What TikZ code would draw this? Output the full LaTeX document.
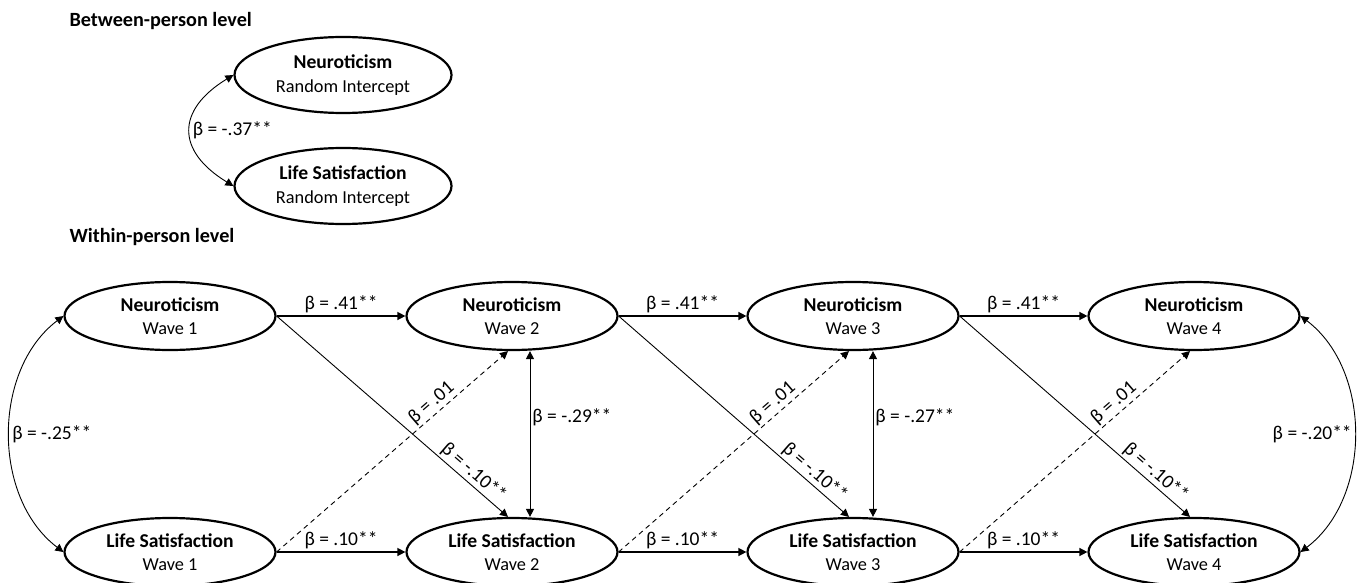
\documentclass[tikz,border=0pt]{standalone}
\usepackage{fontspec}
\setmainfont{Carlito}
\usetikzlibrary{arrows.meta, shapes.geometric}

\newcommand{\varname}[1]{{\fontsize{19.6}{23.5}\selectfont\bfseries #1}}

\begin{document}
\begin{tikzpicture}[x = 1pt, y = -1pt, font = \fontsize{18.3}{23.5}\selectfont,
    wave/.style = {shape = ellipse, draw, line width = 2.2pt, minimum width = 211pt, minimum height = 68pt, inner sep = 0pt, align = center},
    intercept/.style = {wave, minimum width = 217pt, minimum height = 76pt},
    reg/.style = {-{Triangle[length = 8pt, width = 8pt]}, line width = 1.4pt},
    cross/.style = {-{Triangle[length = 8pt, width = 8pt]}, line width = 0.9pt},
    cov/.style = {{Triangle[length = 8pt, width = 8pt]}-{Triangle[length = 8pt, width = 8pt]}, line width = 0.9pt},
    lab/.style = {inner sep = 2pt, font = \fontsize{19.5}{23.5}\selectfont},
    heading/.style = {anchor = west, font = \fontsize{20.2}{24}\selectfont\bfseries}]
    \useasboundingbox (0,0) rectangle (1357,583);

    % between-person part
    \node (B) at (66,21) [heading] {Between-person level};
    \node (NRI) at (343,75) [intercept] {\varname{Neuroticism}\\Random Intercept};
    \node (LRI) at (343,186) [intercept] {\varname{Life Satisfaction}\\Random Intercept};
    \draw [cov] (NRI.west) .. controls (176,110) and (176,151) .. (LRI.west)
        node [pos = 0.5, anchor = west, lab] {β = -.37**};

    % within-person part
    \node (W) at (66,237) [heading] {Within-person level};
    \node (N1) at (170,316) [wave] {\varname{Neuroticism}\\Wave 1};
    \node (N2) at (512,316) [wave] {\varname{Neuroticism}\\Wave 2};
    \node (N3) at (853,316) [wave] {\varname{Neuroticism}\\Wave 3};
    \node (N4) at (1194,316) [wave] {\varname{Neuroticism}\\Wave 4};
    \node (L1) at (170,552) [wave] {\varname{Life Satisfaction}\\Wave 1};
    \node (L2) at (512,552) [wave] {\varname{Life Satisfaction}\\Wave 2};
    \node (L3) at (853,552) [wave] {\varname{Life Satisfaction}\\Wave 3};
    \node (L4) at (1194,552) [wave] {\varname{Life Satisfaction}\\Wave 4};

    \draw [cov] (N1.west) .. controls (-8,370) and (-8,498) .. (L1.west)
        node [pos = 0.5, anchor = west, lab] {β = -.25**};
    \draw [cov] (N4.east) .. controls (1372,370) and (1372,498) .. (L4.east)
        node [pos = 0.5, anchor = east, lab] {β = -.20**};

    % stability paths
    \draw [reg] (N1) -- (N2) node [midway, above, lab] {β = .41**};
    \draw [reg] (N2) -- (N3) node [midway, above, lab] {β = .41**};
    \draw [reg] (N3) -- (N4) node [midway, above, lab] {β = .41**};
    \draw [reg] (L1) -- (L2) node [midway, above, lab] {β = .10**};
    \draw [reg] (L2) -- (L3) node [midway, above, lab] {β = .10**};
    \draw [reg] (L3) -- (L4) node [midway, above, lab] {β = .10**};

    % cross-lagged paths
    \draw [cross] (N1.east) -- ([xshift = -4pt]L2.north) node [pos = 0.82, above, sloped, lab] {β = -.10**};
    \draw [cross] (N2.east) -- ([xshift = -4pt]L3.north) node [pos = 0.82, above, sloped, lab] {β = -.10**};
    \draw [cross] (N3.east) -- ([xshift = -4pt]L4.north) node [pos = 0.82, above, sloped, lab] {β = -.10**};
    \draw [cross, dash pattern = on 5pt off 4pt] (L1.east) -- ([xshift = -4pt]N2.south) node [pos = 0.7, above, sloped, lab] {β = .01};
    \draw [cross, dash pattern = on 5pt off 4pt] (L2.east) -- ([xshift = -4pt]N3.south) node [pos = 0.7, above, sloped, lab] {β = .01};
    \draw [cross, dash pattern = on 5pt off 4pt] (L3.east) -- ([xshift = -4pt]N4.south) node [pos = 0.7, above, sloped, lab] {β = .01};

    % residual correlations
    \draw [cov] ([xshift = 18pt]N2.south) -- ([xshift = 18pt]L2.north) node [pos = 0.4, right, lab] {β = -.29**};
    \draw [cov] ([xshift = 20pt]N3.south) -- ([xshift = 20pt]L3.north) node [pos = 0.4, right, lab] {β = -.27**};
\end{tikzpicture}
\end{document}
